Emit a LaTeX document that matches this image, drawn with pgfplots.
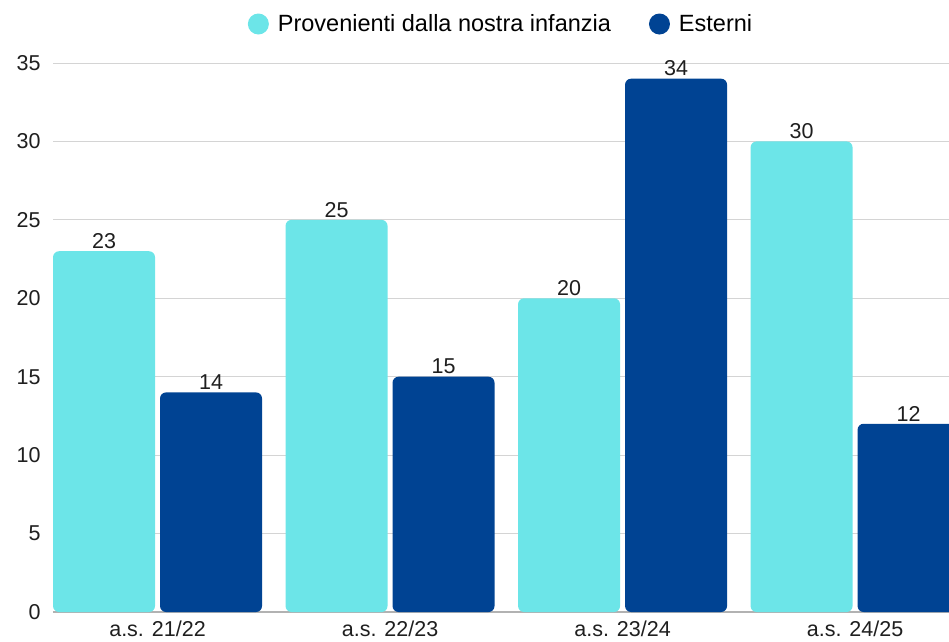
\documentclass[border=0pt]{standalone}
\usepackage{fontspec}
\setmainfont{Liberation Sans}
\usepackage{pgfplots}
\pgfplotsset{compat=1.18}
\definecolor{cyanbar}{RGB}{108,229,232}
\definecolor{bluebar}{RGB}{0,67,147}
\begin{document}
\begin{tikzpicture}[x=1pt,y=1pt]
\begin{axis}[
  at={(0pt,0pt)}, anchor=south west,
  scale only axis, width=896pt, height=549pt,
  xmin=-0.4495, xmax=3.404, ymin=0, ymax=35,
  ytick={0,5,...,35},
  xtick={0,1,2,3},
  xticklabels={a.s. 21/22, a.s. 22/23, a.s. 23/24, a.s. 24/25},
  ybar, bar width=102pt,
  axis x line*=bottom, axis y line*=left,
  x axis line style={draw=black!30, line width=2pt, -},
  y axis line style={draw=none},
  major tick length=0pt,
  ymajorgrids, grid style={draw=black!17, line width=1pt},
  tick label style={font=\fontsize{21.5}{24}\selectfont, color=black!88},
  yticklabel style={xshift=-9pt},
  xticklabel style={yshift=-5pt},
  /pgf/number format/assume math mode=true,
  nodes near coords,
  every node near coord/.append style={font=\fontsize{21.5}{24}\selectfont, color=black!88, yshift=-1pt},
  legend style={at={(0.5,1)}, anchor=center, yshift=39pt, draw=none, fill=none,
    legend columns=2, font=\fontsize{23.5}{26}\selectfont,
    /tikz/every even column/.append style={column sep=36pt}},
]
\addplot[fill=cyanbar, draw=none, rounded corners=6pt, bar shift=-53.5pt,
  legend image code/.code={\fill[cyanbar] (0pt,0pt) circle (10.5pt); \path (17.5pt,0pt);}]
  coordinates {(0,23) (1,25) (2,20) (3,30)};
\addlegendentry{Provenienti dalla nostra infanzia}
\addplot[fill=bluebar, draw=none, rounded corners=6pt, bar shift=53.5pt,
  legend image code/.code={\fill[bluebar] (0pt,0pt) circle (10.5pt); \path (17.5pt,0pt);}]
  coordinates {(0,14) (1,15) (2,34) (3,12)};
\addlegendentry{Esterni}
\end{axis}
\pgfresetboundingbox
\path (-53pt,-29pt) rectangle (896pt,612pt);
\end{tikzpicture}
\end{document}
